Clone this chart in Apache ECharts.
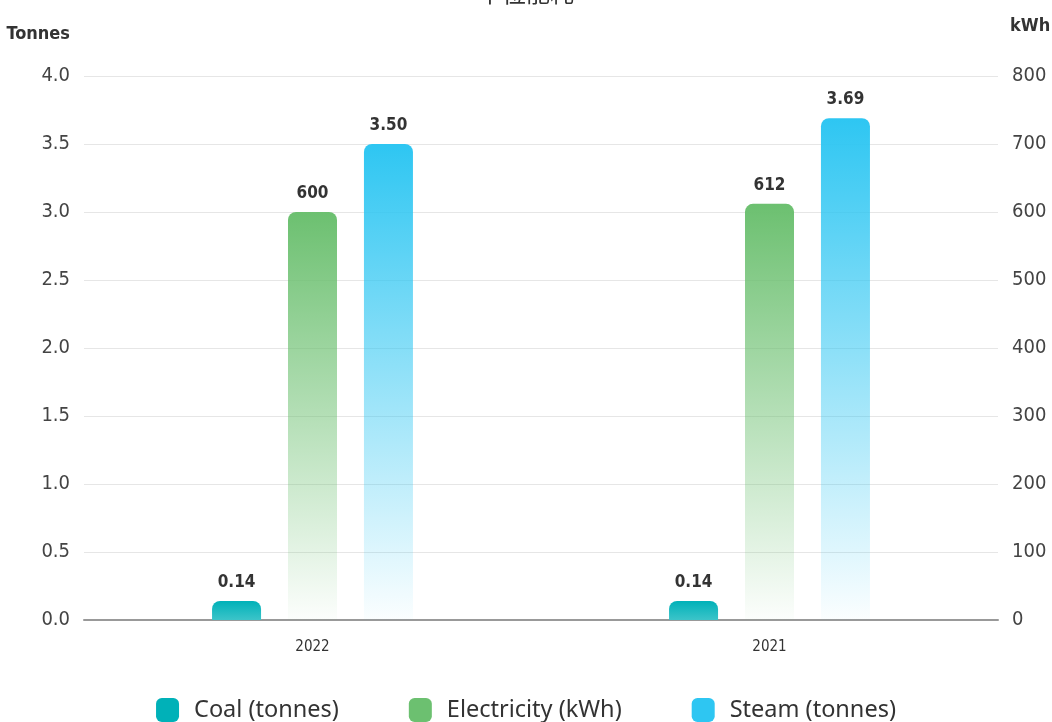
<!DOCTYPE html>
<html>
<head>
<meta charset="utf-8">
<script src="https://cdn.jsdelivr.net/npm/echarts@6/dist/echarts.min.js"></script>
<style>
  html, body { margin: 0; padding: 0; background: #fff; }
  #chart { width: 1052px; height: 722px; }
</style>
</head>
<body>
<div id="chart"></div>
<script>
const years = ["2022", "2021"];
const coalTonnes = [0.14, 0.14];
const electricityKwh = [600, 612];
const steamTonnes = [3.5, 3.69];

const narrowFont = "'Liberation Sans Narrow', 'DejaVu Sans Condensed', Roboto, sans-serif";

function fade(top, bottom) {
  return {
    type: "linear", x: 0, y: 0, x2: 0, y2: 1,
    colorStops: [
      { offset: 0, color: top },
      { offset: 1, color: bottom },
    ],
  };
}

const labelStyle = {
  show: true,
  position: "top",
  distance: 10,
  color: "#333",
  fontFamily: narrowFont,
  fontWeight: "bold",
  fontSize: 17,
};

const chart = echarts.init(document.getElementById("chart"));

chart.setOption({
  backgroundColor: "#fff",
  animation: false,
  title: {
    text: "单位能耗",
    left: "center",
    top: -24,
    textStyle: { fontFamily: "'Noto Sans CJK SC'", fontSize: 24, fontWeight: "normal", color: "#333" },
  },
  grid: { left: 84, right: 54, top: 76, bottom: 102, outerBoundsMode: "none", containLabel: false },
  legend: {
    bottom: -5,
    left: "center",
    itemWidth: 23,
    itemHeight: 24,
    itemGap: 70,
    icon: "roundRect",
    textStyle: { fontFamily: "'Noto Sans', 'Open Sans', sans-serif", fontSize: 23.5, color: "#333", padding: [0, 0, 0, 10] },
    data: [
      { name: "Coal (tonnes)", itemStyle: { color: "#00b1b8" } },
      { name: "Electricity (kWh)", itemStyle: { color: "#6cc070" } },
      { name: "Steam (tonnes)", itemStyle: { color: "#2ec6f2" } },
    ],
  },
  xAxis: {
    type: "category",
    data: years,
    axisTick: { show: false },
    axisLine: { lineStyle: { color: "#999", width: 2 } },
    axisLabel: { color: "#333", fontSize: 15, margin: 20, fontFamily: narrowFont },
  },
  yAxis: [
    {
      type: "value",
      name: "Tonnes",
      nameLocation: "end",
      nameGap: 33,
      nameTextStyle: { color: "#333", fontSize: 18, fontWeight: "bold", fontFamily: narrowFont, align: "right", padding: [0, 14, 0, 0] },
      min: 0,
      max: 4,
      interval: 0.5,
      axisLine: { show: false },
      axisTick: { show: false },
      axisLabel: { color: "#444", fontSize: 20, margin: 14, fontFamily: narrowFont, formatter: (v) => v.toFixed(1) },
      splitLine: { lineStyle: { color: "#e6e6e6" } },
    },
    {
      type: "value",
      name: "kWh",
      nameLocation: "end",
      nameGap: 41,
      nameTextStyle: { color: "#333", fontSize: 18, fontWeight: "bold", fontFamily: narrowFont, align: "left", padding: [0, 0, 0, 12] },
      min: 0,
      max: 800,
      interval: 100,
      position: "right",
      axisLine: { show: false },
      axisTick: { show: false },
      axisLabel: { color: "#444", fontSize: 20, margin: 14, fontFamily: narrowFont },
      splitLine: { show: false },
    },
  ],
  series: [
    {
      name: "Coal (tonnes)",
      type: "bar",
      yAxisIndex: 0,
      barWidth: 49,
      barGap: "55%",
      data: coalTonnes,
      itemStyle: { color: fade("#00b1b8", "#3cc4c9"), borderRadius: [8, 8, 0, 0] },
      label: { ...labelStyle, formatter: (p) => p.value.toFixed(2) },
    },
    {
      name: "Electricity (kWh)",
      type: "bar",
      yAxisIndex: 1,
      barWidth: 49,
      barGap: "55%",
      data: electricityKwh,
      itemStyle: { color: fade("#6cc070", "rgba(108,192,112,0.02)"), borderRadius: [8, 8, 0, 0] },
      label: { ...labelStyle, formatter: (p) => String(p.value) },
    },
    {
      name: "Steam (tonnes)",
      type: "bar",
      yAxisIndex: 0,
      barWidth: 49,
      barGap: "55%",
      data: steamTonnes,
      itemStyle: { color: fade("#2ec6f2", "rgba(46,198,242,0.02)"), borderRadius: [8, 8, 0, 0] },
      label: { ...labelStyle, formatter: (p) => p.value.toFixed(2) },
    },
  ],
});

window.addEventListener("resize", () => chart.resize());
</script>
</body>
</html>
